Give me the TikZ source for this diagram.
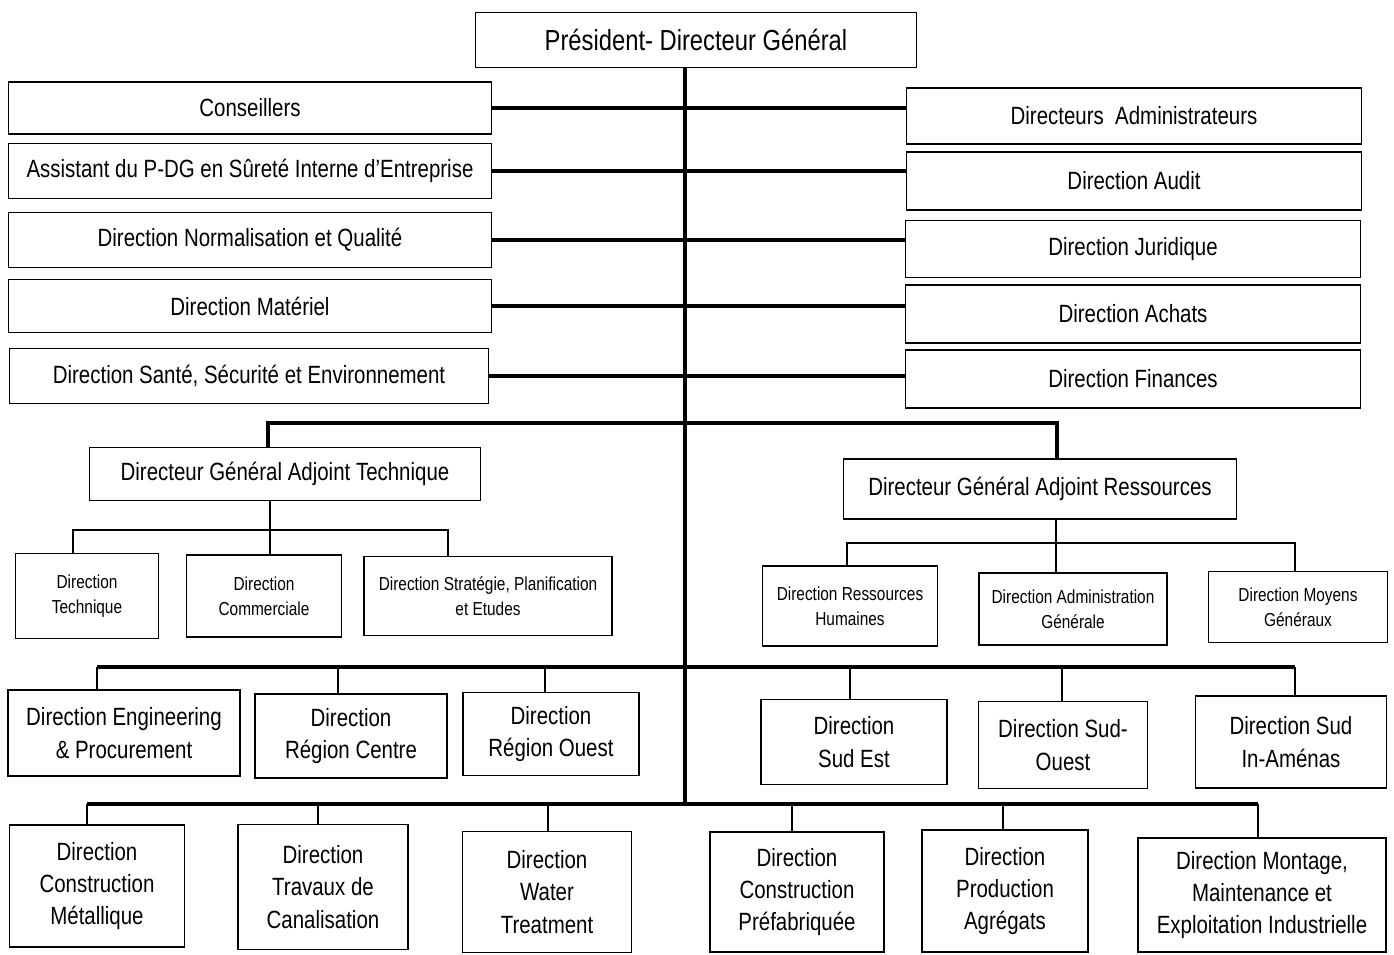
\documentclass[tikz,border=0pt]{standalone}
\usepackage{fontspec}
\newfontfamily\orgfont{Liberation Sans}[FakeStretch=0.82]

\begin{document}
\begin{tikzpicture}[x=0.02cm, y=-0.02cm,
	box/.style={draw, line width=1pt, align=center, inner sep=2pt},
	dims/.style 2 args={minimum width=#1cm, minimum height=#2cm},
	big/.style={font=\orgfont\fontsize{16.5}{20}\selectfont},
	mid/.style={font=\orgfont\fontsize{14.2}{18.4}\selectfont},
	small/.style={font=\orgfont\fontsize{10.7}{14}\selectfont},
	bus/.style={line width=2pt},
	drop/.style={line width=1.2pt},
	link/.style={line width=0.8pt}]
	\useasboundingbox (0,0) rectangle (1394,955);
	\node[box, big, dims={8.82}{1.1}] (pdg) at (696,40) {Président- Directeur Général};
	% left column
	\node[box, mid, dims={9.66}{1.04}] (cons) at (250,108) {Conseillers};
	\node[box, mid, dims={9.66}{1.1}] (asst) at (250,171) {Assistant du P-DG en Sûreté Interne d’Entreprise};
	\node[box, mid, dims={9.66}{1.1}] (dnq) at (250,240) {Direction Normalisation et Qualité};
	\node[box, mid, dims={9.66}{1.06}] (dmat) at (250,306) {Direction Matériel};
	\node[box, mid, dims={9.58}{1.1}] (dhse) at (249,376) {Direction Santé, Sécurité et Environnement};
	% right column
	\node[box, mid, dims={9.1}{1.12}] (dadm) at (1134,116) {Directeurs\ \ Administrateurs};
	\node[box, mid, dims={9.1}{1.16}] (daud) at (1134,181) {Direction Audit};
	\node[box, mid, dims={9.1}{1.14}] (djur) at (1133,249) {Direction Juridique};
	\node[box, mid, dims={9.1}{1.16}] (dach) at (1133,314) {Direction Achats};
	\node[box, mid, dims={9.1}{1.16}] (dfin) at (1133,379) {Direction Finances};
	\foreach \l/\r in {cons/dadm, asst/daud, dnq/djur, dmat/dach, dhse/dfin}
		\draw[bus] (\l.east) -- (\l.east -| \r.west);
	% adjoints
	\node[box, mid, dims={7.82}{1.06}] (dgat) at (285,474) {Directeur Général Adjoint Technique};
	\node[box, mid, dims={7.86}{1.2}] (dgar) at (1040,489) {Directeur Général Adjoint Ressources};
	\node[box, small, dims={2.86}{1.7}] (dtech) at (87,596) {Direction\\Technique};
	\node[box, small, dims={3.1}{1.64}] (dcom) at (264,596) {Direction\\Commerciale};
	\node[box, small, dims={4.96}{1.58}] (dstrat) at (488,596) {Direction Stratégie, Planification\\et Etudes};
	\node[box, small, dims={3.5}{1.6}] (drh) at (850,606) {Direction Ressources\\Humaines};
	\node[box, small, dims={3.76}{1.44}] (dag) at (1073,609) {Direction Administration\\Générale};
	\node[box, small, dims={3.58}{1.42}] (dmg) at (1298,607) {Direction Moyens\\Généraux};
	% regions
	\node[box, mid, dims={4.64}{1.72}] (deng) at (124,733) {Direction Engineering\\\& Procurement};
	\node[box, mid, dims={3.84}{1.68}] (dcentre) at (351,736) {Direction\\Région Centre};
	\node[box, mid, dims={3.52}{1.66}] (douest) at (551,734) {Direction\\Région Ouest};
	\node[box, mid, dims={3.72}{1.7}] (dsudest) at (854,742) {Direction\\Sud Est};
	\node[box, mid, dims={3.38}{1.74}] (dsudouest) at (1063,745) {Direction Sud-\\Ouest};
	\node[box, mid, dims={3.82}{1.84}] (dinam) at (1291,742) {Direction Sud\\In-Aménas};
	% production
	\node[box, mid, dims={3.5}{2.44}] (dmetal) at (97,886) {Direction\\Construction\\Métallique};
	\node[box, mid, dims={3.4}{2.5}] (dcanal) at (323,887) {Direction\\Travaux de\\Canalisation};
	\node[box, mid, dims={3.38}{2.42}] (dwater) at (547,892) {Direction\\Water\\Treatment};
	\node[box, mid, dims={3.48}{2.4}] (dprefab) at (797,892) {Direction\\Construction\\Préfabriquée};
	\node[box, mid, dims={3.32}{2.44}] (dagreg) at (1005,891) {Direction\\Production\\Agrégats};
	\node[box, mid, dims={4.96}{2.28}] (dmont) at (1262,895) {Direction Montage,\\Maintenance et\\Exploitation Industrielle};
	% trunk and buses
	\coordinate (base) at (685,804);
	\draw[bus] (pdg.south -| base) -- (base);
	\coordinate (b1l) at (268,423);
	\coordinate (b1r) at (1057,423);
	\draw[bus] (b1l |- dgat.north) -- (b1l) -- (b1r) -- (b1r |- dgar.north);
	\draw[link] (270,530 |- dgat.south) -- (270,530);
	\draw[link] (73,530 |- dtech.north) -- (73,530) -- (448,530) -- (448,530 |- dstrat.north);
	\draw[link] (270,530) -- (270,530 |- dcom.north);
	\draw[link] (1056,543 |- dgar.south) -- (1056,543);
	\draw[link] (847,543 |- drh.north) -- (847,543) -- (1295,543) -- (1295,543 |- dmg.north);
	\draw[link] (1056,543) -- (1056,543 |- dag.north);
	\draw[bus] (97,667) -- (1295,667);
	\foreach \n/\x in {deng/97, dcentre/338, douest/545, dsudest/850, dsudouest/1062, dinam/1295}
		\draw[drop] (\x,667) -- (\x,667 |- \n.north);
	\draw[bus] (87,804) -- (1258,804);
	\foreach \n/\x in {dmetal/87, dcanal/318, dwater/548, dprefab/792, dagreg/1003, dmont/1258}
		\draw[drop] (\x,804) -- (\x,804 |- \n.north);
\end{tikzpicture}
\end{document}
